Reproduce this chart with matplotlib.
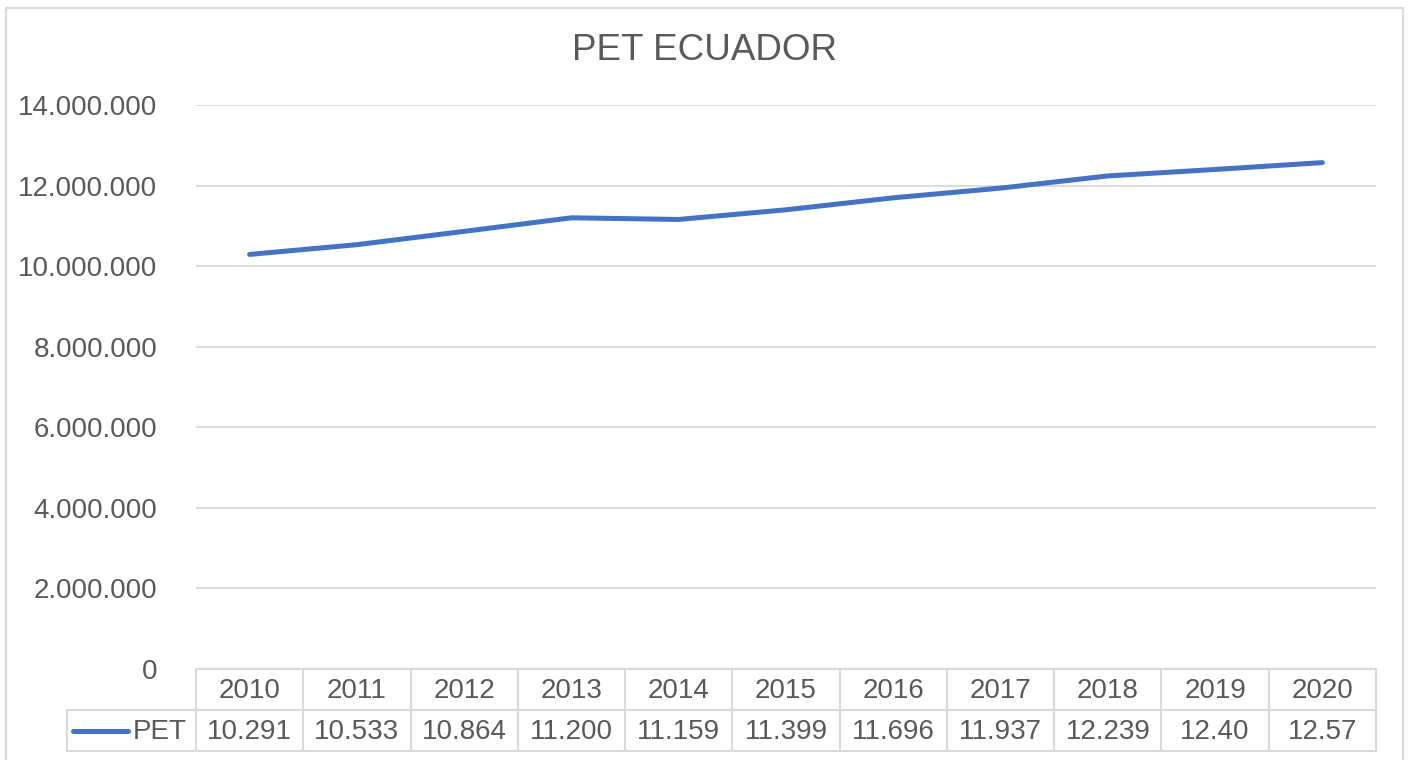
import matplotlib.pyplot as plt
from matplotlib.patches import Rectangle
from matplotlib.transforms import blended_transform_factory
import numpy as np

plt.rcParams['font.family'] = ['Liberation Sans', 'DejaVu Sans']

years = ['2010', '2011', '2012', '2013', '2014', '2015', '2016', '2017', '2018', '2019', '2020']
pet = [10291000, 10533000, 10864000, 11200000, 11159000, 11399000,
       11696000, 11937000, 12239000, 12400000, 12570000]
pet_labels = ['10.291', '10.533', '10.864', '11.200', '11.159', '11.399',
              '11.696', '11.937', '12.239', '12.40', '12.57']
yticks = np.arange(0, 14000001, 2000000)

txt = '#595959'
grid = '#d9d9d9'
blue = '#4472C4'

fig = plt.figure(figsize=(14.1, 7.6), dpi=100)
ax = fig.add_axes([196 / 1410, 91 / 760, 1180 / 1410, 564 / 760])

# chart border
fig.patches.append(Rectangle((6 / 1410, -0.05), 1397 / 1410, (752 + 38) / 760,
                             transform=fig.transFigure, fill=False,
                             edgecolor=grid, linewidth=1.5))

x = np.arange(len(years))
ax.plot(x, pet, color=blue, linewidth=3.6, solid_capstyle='round', zorder=3)

ax.set_xlim(-0.5, len(years) - 0.5)
ax.set_ylim(0, 14000000)
ax.set_yticks(yticks)
ax.set_yticklabels(['0' if v == 0 else f'{v:,.0f}'.replace(',', '.') for v in yticks])
ax.tick_params(axis='y', length=0, pad=28, labelsize=20, labelcolor=txt)
ax.set_xticks([])
ax.grid(axis='y', color=grid, linewidth=1.3)
for s in ax.spines.values():
    s.set_visible(False)

fig.text(0.5, 1 - 50 / 760, 'PET ECUADOR', ha='center', va='center',
         fontsize=26.5, color=txt)

# data table under the plot
tr = blended_transform_factory(ax.transData, ax.transAxes)
rh = 41 / 564
n = len(years)
lw = 1.5
ax.plot([-0.5, n - 0.5], [0, 0], transform=tr, color=grid, lw=lw, clip_on=False)
leg_left = -0.5 - 129 / (1180 / n)
ax.plot([leg_left, n - 0.5], [-rh, -rh], transform=tr, color=grid, lw=lw, clip_on=False)
ax.plot([leg_left, n - 0.5], [-2 * rh, -2 * rh], transform=tr, color=grid, lw=lw, clip_on=False)
ax.plot([leg_left, leg_left], [-rh, -2 * rh], transform=tr, color=grid, lw=lw, clip_on=False)
for i in range(n + 1):
    ax.plot([i - 0.5, i - 0.5], [0, -2 * rh], transform=tr, color=grid, lw=lw, clip_on=False)
for i in range(n):
    ax.text(i, -rh / 2 - 0.003, years[i], transform=tr, ha='center', va='center',
            fontsize=20, color=txt)
    ax.text(i, -1.5 * rh - 0.003, pet_labels[i], transform=tr, ha='center', va='center',
            fontsize=20, color=txt)

# legend key in the table
px = 1180 / n
ax.plot([-0.5 - 123 / px, -0.5 - 68 / px], [-1.5 * rh, -1.5 * rh], transform=tr,
        color=blue, lw=3.6, solid_capstyle='round', clip_on=False)
ax.text(-0.5 - 63 / px, -1.5 * rh - 0.003, 'PET', transform=tr, ha='left', va='center',
        fontsize=20, color=txt)

fig.savefig('out.png', dpi=100)
